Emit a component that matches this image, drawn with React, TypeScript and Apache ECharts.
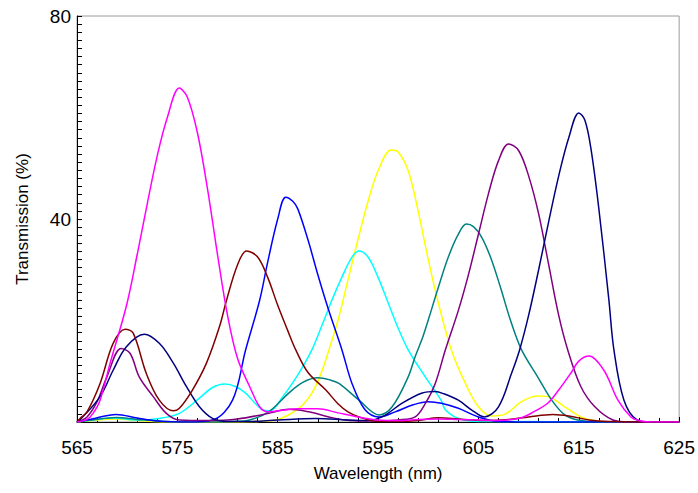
import React, { useEffect, useRef } from "react";
import * as echarts from "echarts";

// Wavelength (nm) / transmission (%) pairs
const magenta: number[][] = [
  [565, 0], [566, 0.5], [566.6, 1.7], [567.3, 4.3], [568.3, 11.6], [569.9, 22.7], [571, 33], [572, 43],
  [573, 52.5], [574, 60], [575.2, 65.8], [576, 64], [577, 57], [578, 46], [579, 33], [580, 21],
  [581, 12.5], [582.2, 7], [583.2, 3], [584, 2], [585, 2.2], [587, 2.6], [589, 2.6], [591, 1.8],
  [593, 1], [595, 0.4], [597, 0.3], [599, 0.5], [601, 0.6], [603, 0.5], [605, 0.4], [607, 0.3],
  [609.2, 0.8], [610.5, 2], [611.9, 3.7], [613, 6.3], [614.2, 9.6], [615, 12], [616, 13], [617.5, 10.2],
  [618.9, 4.3], [620.2, 1], [621, 0.3], [622, 0], [625, 0],
];
const wine: number[][] = [
  [565, 0], [565.3, 0.7], [566, 2], [567.3, 7.6], [568.6, 15.5], [569.8, 18.3], [570.6, 17.5], [571.9, 9.6],
  [573.2, 4.3], [574.6, 2.2], [575.2, 2.7], [576.5, 6.3], [577.9, 11.6], [579.2, 18.8], [579.9, 24],
  [581, 31], [581.9, 33.7], [583, 32.5], [584, 28.5], [585, 23], [586, 18], [586.8, 14.2], [588, 9.8],
  [589.8, 6.3], [591, 3.6], [592, 2], [593.1, 1], [595, 0.1], [597, 0.1], [599, 0.3], [601, 0.85],
  [603, 0.6], [604.3, 0.4], [606, 0.3], [608, 0.5], [610, 1], [612.4, 1.5], [614, 1.2], [616, 0.4],
  [618, 0.1], [625, 0],
];
const navy: number[][] = [
  [565, 0], [565.3, 0.4], [567.3, 5], [568.6, 10.2], [569.9, 14.8], [571.7, 17.3], [573.2, 15.5],
  [574.6, 11.6], [575.9, 7], [577.2, 3], [578.5, 0.7], [579.9, 0.1], [582, 0.1], [585, 0.4], [588.8, 0.7],
  [592, 0.4], [594, 0.3], [595.4, 1], [597.4, 3.7], [599.4, 5.7], [600.7, 6], [601.5, 5.6], [603, 4.3],
  [604.3, 2.4], [605.6, 1], [607, 3], [608.3, 9.6], [609.1, 14.2], [610, 21], [611, 30], [612, 39.5],
  [613, 48.5], [614, 56], [615, 60.9], [615.6, 59.5], [616.2, 54], [617, 42], [618, 24], [618.5, 14.2],
  [619.5, 4.3], [620.8, 0.4], [622, 0], [625, 0],
];
const purple: number[][] = [
  [565, 0], [566, 1], [567, 4], [568, 9], [569.4, 14.5], [570.3, 13.5], [571.2, 8.9], [572.6, 5],
  [573.9, 1.7], [575.2, 0.4], [578, 0.3], [581, 0.6], [584.1, 1.7], [586.1, 2.5], [588.1, 2], [590.1, 1],
  [592.1, 0.3], [595, 0.2], [597, 0.4], [598.7, 1], [599.7, 3.6], [600.7, 7.6], [601.7, 14.2], [603, 22],
  [604, 29], [605, 37], [606, 45], [607, 51.5], [608, 54.8], [609, 53.5], [610, 48.5], [611, 41],
  [612, 31], [613, 21], [613.9, 14.2], [615.2, 7], [616.6, 3], [618.4, 0.4], [620, 0], [625, 0],
];
const blue: number[][] = [
  [565, 0], [566.5, 0.6], [568.9, 1.5], [571, 0.8], [573, 0.2], [576, 0], [578.5, 0.4], [580.5, 4.3],
  [581.8, 14.2], [583.2, 24], [584, 31.5], [585, 40], [585.8, 44.3], [586.5, 43.5], [587, 42], [588, 36],
  [589, 29], [590, 22.5], [591.4, 14.2], [592.4, 7.6], [593.7, 2.4], [595.1, 1], [596.7, 2], [598.5, 3.4],
  [600, 4], [601.3, 3.7], [603, 2.7], [605, 1], [607, 0.1], [610, 0], [625, 0],
];
const cyan: number[][] = [
  [565, 0], [566.5, 0.4], [568.6, 0.8], [571, 0.4], [573.2, 0.7], [575.2, 1.7], [577.2, 4.7], [578.5, 6.8],
  [579.7, 7.5], [580.8, 7], [581.8, 5.7], [582.6, 4], [583.4, 2.5], [584.2, 2.2], [585.5, 5], [587.1, 9.6],
  [588.4, 14.2], [589.5, 19.5], [590.5, 24.5], [591.5, 29], [592.4, 32.5], [593.1, 33.7], [594, 32.5],
  [595, 28.5], [596, 23.5], [597, 18.5], [598, 14.2], [599, 11], [599.7, 8.9], [601.3, 4.2], [601.7, 2.4],
  [603, 0.7], [605, 0.1], [625, 0],
];
const teal: number[][] = [
  [565, 0], [566.5, 0.4], [568.9, 0.9], [571, 0.5], [574, 0.1], [578, 0], [580.5, 0.1], [582.2, 0.4],
  [584.1, 2], [586.1, 5.7], [587.5, 7.8], [589, 8.7], [590.2, 8.3], [591.1, 7.6], [593.1, 4.3], [595.1, 1.4],
  [596.4, 3], [598, 8.9], [598.7, 12.9], [599.5, 17], [600.3, 22], [601, 26.5], [602, 32.5], [603, 37],
  [603.8, 39], [604.5, 38.5], [605.3, 36.5], [606.2, 32.5], [607.2, 26.5], [608.2, 20], [609.3, 14.2],
  [610.9, 8.9], [612.3, 4.3], [613.6, 1.4], [614.9, 0.4], [617, 0], [625, 0],
];
const yellow: number[][] = [
  [565, 0], [566.5, 0.3], [568.9, 0.6], [571, 0.3], [574, 0], [580, 0], [583, 0.1], [584.8, 0.4],
  [587.1, 2.7], [588.4, 5.7], [589.3, 9.5], [590.1, 14.2], [591, 20], [592, 28], [593, 36], [594, 43.5],
  [595, 49.5], [596.3, 53.6], [597, 53.2], [598, 49.5], [599, 41.5], [600, 32], [601, 23.5], [602.3, 14.2],
  [603.7, 7.6], [605, 3], [606.3, 1.2], [607.6, 1.5], [609.3, 4], [610.9, 5.1], [611.9, 5], [613.6, 3],
  [615.2, 1], [616.6, 0.3], [618, 0], [625, 0],
];

const xTicks = { min: 565, max: 625, step: 10 };
const yTicks = { min: 0, max: 80, step: 40 };

const curves = [
  { name: "yellow", data: yellow, color: "#FFFF00" },
  { name: "cyan", data: cyan, color: "#00FFFF" },
  { name: "teal", data: teal, color: "#008080" },
  { name: "blue", data: blue, color: "#0000FF" },
  { name: "purple", data: purple, color: "#800080" },
  { name: "navy", data: navy, color: "#000080" },
  { name: "wine", data: wine, color: "#800000" },
  { name: "magenta", data: magenta, color: "#FF00FF" },
];

const FONT = "'Liberation Sans', Arial, sans-serif";

export default function App() {
  const ref = useRef<HTMLDivElement>(null);
  useEffect(() => {
    if (!ref.current) return;
    const chart = echarts.init(ref.current, null, { renderer: "svg" });
    chart.setOption({
      animation: false,
      backgroundColor: "#ffffff",
      grid: {
        left: 77,
        right: 16,
        top: 16,
        bottom: 71,
        show: true,
        borderColor: "#9a9a9a",
        borderWidth: 1,
        backgroundColor: "transparent",
      },
      xAxis: {
        type: "value",
        min: xTicks.min,
        max: xTicks.max,
        interval: xTicks.step,
        name: "Wavelength (nm)",
        nameLocation: "middle",
        nameGap: 43,
        nameTextStyle: { fontFamily: FONT, fontSize: 17, color: "#000" },
        axisLine: { show: true, lineStyle: { color: "#000", width: 1 } },
        axisTick: { show: true, inside: true, length: 5, lineStyle: { color: "#000" } },
        minorTick: { show: true, splitNumber: 5, length: 4, lineStyle: { color: "#000" } },
        splitLine: { show: false },
        axisLabel: { fontFamily: FONT, fontSize: 19, color: "#000", margin: 16 },
      },
      yAxis: {
        type: "value",
        min: yTicks.min,
        max: yTicks.max,
        interval: yTicks.step,
        name: "Transmission (%)",
        nameLocation: "middle",
        nameGap: 46,
        nameTextStyle: { fontFamily: FONT, fontSize: 17, color: "#000" },
        axisLine: { show: true, lineStyle: { color: "#000", width: 1 } },
        axisTick: { show: true, inside: true, length: 5, lineStyle: { color: "#000" } },
        minorTick: { show: true, splitNumber: 25, length: 5, lineStyle: { color: "#000" } },
        splitLine: { show: false },
        axisLabel: {
          fontFamily: FONT,
          fontSize: 19,
          color: "#000",
          margin: 6,
          formatter: (v: number) => (v === 0 ? "" : String(v)),
        },
      },
      series: curves.map((c) => ({
        name: c.name,
        type: "line",
        data: c.data,
        smooth: 0.35,
        showSymbol: false,
        symbol: "none",
        lineStyle: { color: c.color, width: 1.5 },
        itemStyle: { color: c.color },
        z: 3,
      })),
    });
    return () => chart.dispose();
  }, []);
  return (
    <div
      ref={ref}
      style={{ position: "absolute", left: 0, top: 0, width: 698, height: 493 }}
    />
  );
}
